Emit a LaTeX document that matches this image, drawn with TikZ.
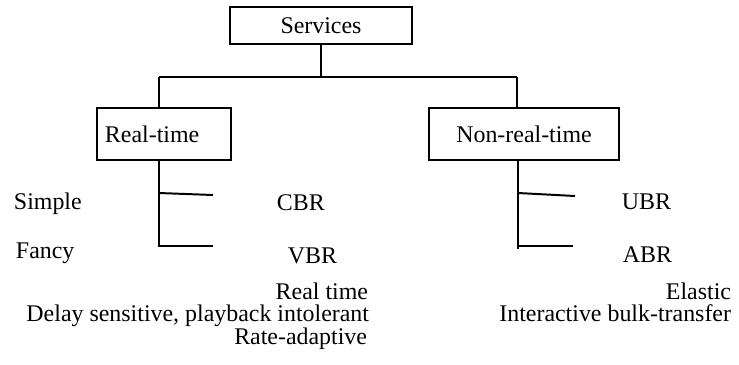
\documentclass[tikz,border=0pt]{standalone}
\usepackage{fontspec}
\setmainfont{Liberation Serif}
\usepackage{tikz}
\usetikzlibrary{positioning}
\usetikzlibrary{calc}

\begin{document}
\begin{tikzpicture}[x=0.025cm,y=-0.025cm,line width=1.4pt]
   \useasboundingbox (0,0) rectangle (739,364);
   \tikzstyle{every node}=[font=\fontsize{17}{20}\selectfont,inner sep=0pt];
   \tikzstyle{classbox}=[draw,rectangle,minimum height=1.3cm];
   \node[classbox,minimum width=4.55cm,minimum height=0.925cm] (services) at (321,25.5) {Services};
   \node[classbox,text width=2.95cm,inner xsep=0.2cm,align=left] (realtime) at (164,134) {Real-time};
   \node[classbox,minimum width=4.75cm] (nonrealtime) at (524,134) {Non-real-time};
   % bus from Services to both classes
   \coordinate (busL) at (159,77);
   \coordinate (busR) at (517,77);
   \draw (services.south) -- (services.south |- busL);
   \draw (busL) -- (busR);
   \draw (busL) -- (busL |- realtime.north);
   \draw (busR) -- (busR |- nonrealtime.north);
   % real-time branches
   \coordinate (rtMid) at (159,193);
   \coordinate (rtEnd) at (159,246);
   \coordinate (cbrEnd) at (213,195);
   \coordinate (vbrEnd) at (213,246);
   \draw (busL |- realtime.south) -- (rtEnd) -- (vbrEnd);
   \draw (rtMid) -- (cbrEnd);
   % non-real-time branches
   \coordinate (nrtMid) at (518,193);
   \coordinate (nrtJoin) at (518,246);
   \coordinate (nrtEnd) at (518,249);
   \coordinate (ubrEnd) at (575,196);
   \coordinate (abrEnd) at (573,246);
   \draw (nrtMid |- nonrealtime.south) -- (nrtEnd);
   \draw (nrtMid) -- (ubrEnd);
   \draw (nrtJoin) -- (abrEnd);
   \tikzstyle{every node}=[font=\fontsize{17}{20}\selectfont,inner sep=0pt,anchor=base west];
   \node (simple) at (13,209) {Simple};
   \node (fancy) at (15,258) {Fancy};
   \node (cbr) at (276,210) {CBR};
   \node (vbr) at (287,263) {VBR};
   \node (ubr) at (621,209) {UBR};
   \node (abr) at (622,262) {ABR};
   \tikzstyle{every node}=[font=\fontsize{17}{20}\selectfont,inner sep=0pt,anchor=base east];
   \node (rtime) at (369,299) {Real time};
   \node (delay) at (370,321) {Delay sensitive, playback intolerant};
   \node (rateadapt) at (368,344) {Rate-adaptive};
   \node (elastic) at (732,299) {Elastic};
   \node (bulk) at (732,321) {Interactive bulk-transfer};
\end{tikzpicture}
\end{document}
